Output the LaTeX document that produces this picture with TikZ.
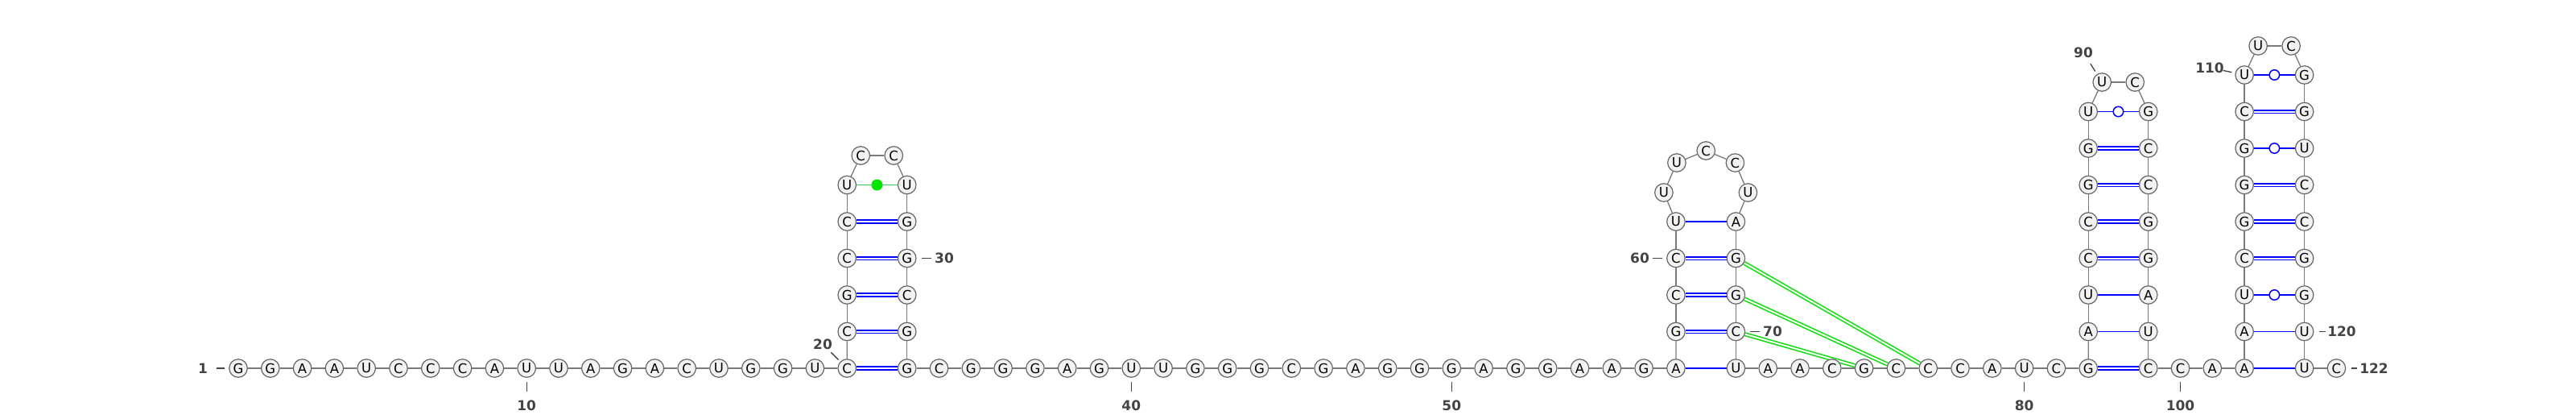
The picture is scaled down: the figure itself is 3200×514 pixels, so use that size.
\documentclass[tikz,border=0pt]{standalone}
\usepackage{fontspec}
\setmainfont{DejaVu Sans}
\usetikzlibrary{calc}
\definecolor{ring}{HTML}{666666}
\definecolor{bfill}{HTML}{F2F2F2}
\definecolor{bb}{HTML}{7A7A7A}
\definecolor{pb}{HTML}{0000FF}
\definecolor{pk}{HTML}{11DD11}
\definecolor{gline}{HTML}{33CC55}
\definecolor{gdot}{HTML}{00E600}
\definecolor{lab}{HTML}{444444}
\pgfdeclarelayer{back}
\pgfdeclarelayer{bg}
\pgfsetlayers{back,bg,main}
\tikzset{
  nt/.style={circle, draw=ring, fill=bfill, line width=1.2pt, minimum size=22.5pt, inner sep=0pt, font=\fontsize{16.5}{16.5}\selectfont},
  bbone/.style={draw=bb, line width=1.3pt},
  single/.style={draw=pb, line width=1.6pt},
  dbl/.style={draw=pb, line width=1.6pt, double=white, double distance=2pt},
  gdbl/.style={draw=pk, line width=1.6pt, double=white, double distance=2pt},
  gsingle/.style={draw=gline, line width=1.5pt},
  wob/.style={circle, draw=pb, fill=white, line width=1.5pt, minimum size=12.5pt, inner sep=0pt},
  gdotst/.style={circle, fill=gdot, minimum size=14pt, inner sep=0pt},
  lbl/.style={text=lab, font=\fontsize{17}{17}\selectfont\bfseries, inner sep=0pt},
  tickln/.style={draw=lab, line width=1.3pt},
}
\begin{document}
\begin{tikzpicture}[x=1pt,y=-1pt]
\useasboundingbox (0,0) rectangle (3200,514);
\begin{pgfonlayer}{back}
  \fill[white] (0,0) rectangle (3200,514);
\end{pgfonlayer}
% baseline 1-20
\foreach \n/\b [evaluate=\n as \x using 296+(\n-1)*39.8] in {1/G,2/G,3/A,4/A,5/U,6/C,7/C,8/C,9/A,10/U,11/U,12/A,13/G,14/A,15/C,16/U,17/G,18/G,19/U,20/C}
  \node[nt] (n\n) at (\x,457) {\b};
% stem 1
\foreach \n/\b [evaluate=\n as \y using 457-(\n-20)*45.5] in {21/C,22/G,23/C,24/C,25/U}
  \node[nt] (n\n) at (1052.2,\y) {\b};
\node[nt] (n26) at (1069.2,193) {C};
\node[nt] (n27) at (1110.2,193) {C};
\foreach \n/\b [evaluate=\n as \y using 457-(33-\n)*45.5] in {28/U,29/G,30/G,31/C,32/G,33/G}
  \node[nt] (n\n) at (1126.7,\y) {\b};
% baseline 34-57
\foreach \n/\b [evaluate=\n as \x using 1126.7+(\n-33)*39.8] in {34/C,35/G,36/G,37/G,38/A,39/G,40/U,41/U,42/G,43/G,44/G,45/C,46/G,47/A,48/G,49/G,50/G,51/A,52/G,53/G,54/A,55/A,56/G,57/A}
  \node[nt] (n\n) at (\x,457) {\b};
% stem 2
\foreach \n/\b [evaluate=\n as \y using 457-(\n-57)*45.5] in {58/G,59/C,60/C,61/U}
  \node[nt] (n\n) at (2081.9,\y) {\b};
\node[nt] (n62) at (2066.9,239) {U};
\node[nt] (n63) at (2082.9,202) {U};
\node[nt] (n64) at (2119.2,187) {C};
\node[nt] (n65) at (2155.4,202) {C};
\node[nt] (n66) at (2171.4,239) {U};
\foreach \n/\b [evaluate=\n as \y using 457-(71-\n)*45.5] in {67/A,68/G,69/G,70/C,71/U}
  \node[nt] (n\n) at (2156.4,\y) {\b};
% baseline 72-82
\foreach \n/\b [evaluate=\n as \x using 2156.4+(\n-71)*39.8] in {72/A,73/A,74/C,75/G,76/C,77/C,78/C,79/A,80/U,81/C,82/G}
  \node[nt] (n\n) at (\x,457) {\b};
% stem 3
\foreach \n/\b [evaluate=\n as \y using 457-(\n-82)*45.5] in {83/A,84/U,85/C,86/C,87/G,88/G,89/U}
  \node[nt] (n\n) at (2594.2,\y) {\b};
\node[nt] (n90) at (2611.2,102) {U};
\node[nt] (n91) at (2652.2,102) {C};
\foreach \n/\b [evaluate=\n as \y using 457-(99-\n)*45.5] in {92/G,93/C,94/C,95/G,96/G,97/A,98/U,99/C}
  \node[nt] (n\n) at (2668.7,\y) {\b};
\foreach \n/\b [evaluate=\n as \x using 2668.7+(\n-99)*39.8] in {100/C,101/A,102/A}
  \node[nt] (n\n) at (\x,457) {\b};
% stem 4
\foreach \n/\b [evaluate=\n as \y using 457-(\n-102)*45.5] in {103/A,104/U,105/C,106/G,107/G,108/G,109/C,110/U}
  \node[nt] (n\n) at (2788.1,\y) {\b};
\node[nt] (n111) at (2805.1,57) {U};
\node[nt] (n112) at (2846.1,57) {C};
\foreach \n/\b [evaluate=\n as \y using 457-(121-\n)*45.5] in {113/G,114/G,115/U,116/C,117/C,118/G,119/G,120/U,121/U}
  \node[nt] (n\n) at (2862.6,\y) {\b};
\node[nt] (n122) at (2902.4,457) {C};
% labels
\node[lbl] (L1) at (252,457) {1};
\node[lbl] (L10) at (654.2,503) {10};
\node[lbl] (L20) at (1022,427) {20};
\node[lbl] (L30) at (1173,320.5) {30};
\node[lbl] (L40) at (1405.3,503) {40};
\node[lbl] (L50) at (1803.3,503) {50};
\node[lbl] (L60) at (2037,320.5) {60};
\node[lbl] (L70) at (2202,411.5) {70};
\node[lbl] (L80) at (2514.6,503) {80};
\node[lbl] (L90) at (2588,65) {90};
\node[lbl] (L100) at (2708.5,503) {100};
\node[lbl] (L110) at (2745,84) {110};
\node[lbl] (L120) at (2909,411.5) {120};
\node[lbl] (L122) at (2949,457) {122};
\begin{pgfonlayer}{bg}
  \foreach \i [evaluate=\i as \j using int(\i+1)] in {1,...,121}
    \draw[bbone] (n\i) -- (n\j);
  \foreach \a/\b in {20/33,21/32,22/31,23/30,24/29,58/70,59/69,60/68,82/99,85/96,86/95,87/94,88/93,105/118,106/117,107/116,109/114}
    \draw[dbl] (n\a) -- (n\b);
  \foreach \a/\b in {57/71,61/67,83/98,84/97,102/121,103/120,89/92,104/119,108/115,110/113}
    \draw[single] (n\a) -- (n\b);
  \foreach \a/\b in {70/75,69/76,68/77}
    \draw[gdbl] (n\a) -- (n\b);
  \draw[gsingle] (n25) -- (n28);
  \foreach \a/\s/\e in {1/17pt/27pt,10/17pt/29pt,20/15pt/28pt,30/18pt/30pt,40/17pt/29pt,50/17pt/29pt,60/17pt/29pt,70/18pt/30pt,80/17pt/29pt,90/16pt/27pt,100/17pt/29pt,110/16pt/27pt,120/18pt/26pt,122/18.5pt/25.5pt}
    \draw[tickln] ($(n\a)!\s!(L\a)$) -- ($(n\a)!\e!(L\a)$);
\end{pgfonlayer}
\foreach \a/\b in {89/92,104/119,108/115,110/113}
  \path (n\a) -- node[wob]{} (n\b);
\path (n25) -- node[gdotst]{} (n28);
\end{tikzpicture}
\end{document}
